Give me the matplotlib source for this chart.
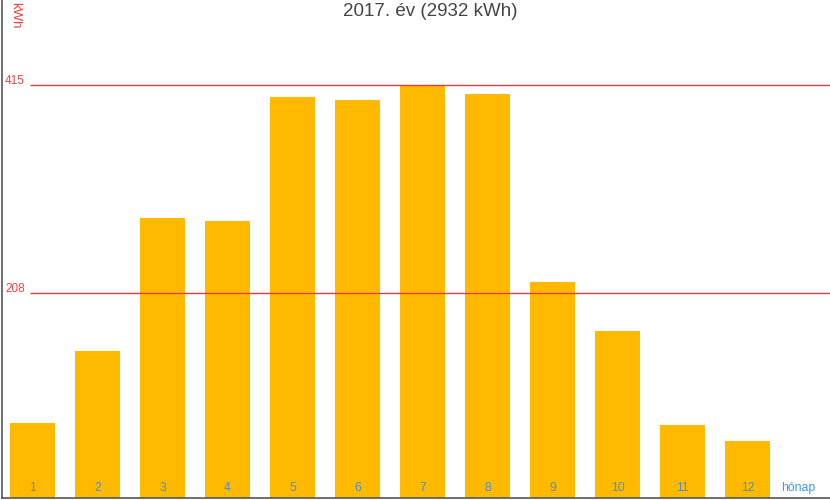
import matplotlib
matplotlib.use("Agg")
import matplotlib.pyplot as plt

months = [1, 2, 3, 4, 5, 6, 7, 8, 9, 10, 11, 12]
values = [79, 150, 283, 280, 403, 400, 415, 406, 219, 170, 77, 61]
grid_levels = [415, 208]
title = "2017. év (2932 kWh)"
x_unit = "hónap"
y_unit = "kWh"

plt.rcParams['font.family'] = ['Liberation Sans', 'DejaVu Sans']

fig = plt.figure(figsize=(8.3, 5.0), dpi=100)
ax = fig.add_axes([2/830, 2/500, 1 - 2/830, 1 - 2/500])

scale = 1.0048  # px per kWh
ax.bar(months, values, width=45/65, color='#FFBA00', zorder=2)
ax.set_xlim(34.5/65, 862.5/65)
ax.set_ylim(4/scale, 502/scale)

x0 = (30 + 32.5) / 65
for g in grid_levels:
    ax.hlines(g, x0, 862.5/65, color='#E03C3C', linewidth=1, zorder=3)
    ax.text(3/828, g + 4, str(g), transform=ax.get_yaxis_transform(),
            color='#F04040', fontsize=8.5, ha='left', va='center')

for m in months:
    ax.text(m, 14, str(m), color='#4A90D0', fontsize=8.8, ha='center', va='center', zorder=4)
ax.text(12.78, 14, x_unit, color='#3399FF', fontsize=8.8, ha='center', va='center')

ax.text(13/828, 1.0 - 2/498, y_unit, transform=ax.transAxes, rotation=270,
        color='#F04040', fontsize=9.5, ha='center', va='top')

fig.text(430/830, 1 - 12/500, title, color='#444444', fontsize=13.5, ha='center', va='center')

ax.set_xticks([])
ax.set_yticks([])
for s in ['top', 'right']:
    ax.spines[s].set_visible(False)
for s in ['left', 'bottom']:
    ax.spines[s].set_color('#555555')
    ax.spines[s].set_linewidth(1.2)

fig.savefig("out.png", dpi=100)
